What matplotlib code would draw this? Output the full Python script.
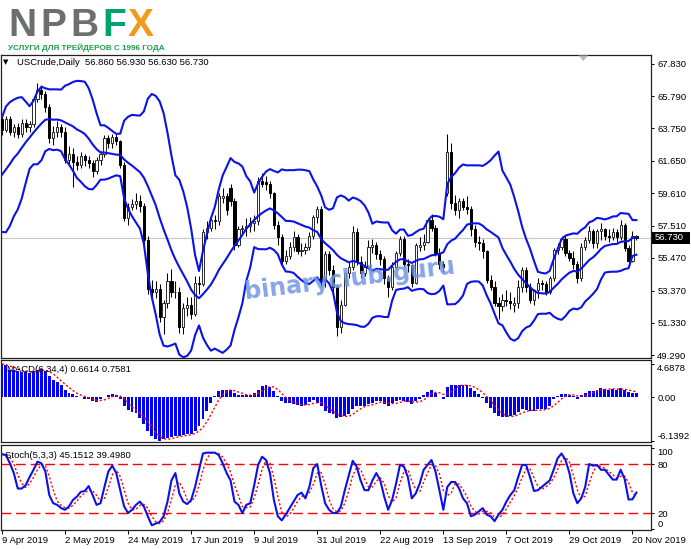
import numpy as np
import pandas as pd
import matplotlib
matplotlib.use("Agg")
import matplotlib.pyplot as plt
from matplotlib.patches import Rectangle, Polygon
from matplotlib import font_manager as fm

plt.rcParams['font.family'] = ['Liberation Sans', 'DejaVu Sans']

# ---------------- data ----------------
# closes before the visible window (needed for the band warm-up, estimated from the band start)
prior_closes = [59.6, 58.7, 58.4, 59.5, 59.0, 58.9, 59.7, 61.1, 62.1, 62.0, 61.7, 62.6, 64.0]

opens = [64.3, 63.6, 64.3, 63.5, 63.8, 63.4, 64.1, 63.8, 64.0, 65.6, 66.2, 65.9,
         65.1, 63.1, 63.5, 63.8, 63.5, 61.7, 62.1, 61.6, 61.4, 62.0, 61.7, 61.5,
         61.0, 61.7, 62.1, 63.1, 62.8, 63.2, 62.9, 61.4, 58.0, 58.7, 58.9, 59.1,
         58.8, 56.6, 53.5, 53.3, 53.5, 51.7, 52.6, 54.0, 53.3, 53.3, 51.1, 52.3,
         52.5, 51.9, 53.9, 53.8, 57.1, 57.4, 57.9, 57.8, 59.3, 59.4, 59.9, 59.1,
         56.3, 57.3, 57.4, 57.5, 57.7, 57.8, 60.4, 60.3, 60.2, 59.6, 57.6, 56.8,
         55.3, 55.6, 56.2, 56.8, 55.9, 56.0, 56.2, 56.9, 58.1, 58.6, 54.0, 55.7,
         54.7, 53.6, 51.1, 52.5, 54.5, 54.9, 57.1, 55.2, 54.5, 54.9, 56.2, 56.3,
         55.7, 55.4, 54.2, 53.6, 54.9, 55.8, 56.7, 55.1, 55.0, 53.9, 56.2, 56.3,
         56.5, 57.9, 57.4, 55.8, 55.1, 59.6, 62.2, 59.0, 58.5, 59.1, 58.7, 58.6,
         57.3, 56.5, 56.4, 55.9, 54.1, 53.6, 52.6, 52.4, 52.8, 52.7, 52.5, 52.6,
         53.6, 54.7, 53.6, 52.8, 53.4, 53.9, 53.8, 53.3, 54.2, 56.0, 56.2, 56.7,
         55.8, 55.5, 55.1, 54.2, 56.2, 56.6, 57.2, 56.4, 57.2, 57.3, 56.9, 56.8,
         57.1, 56.8, 57.6, 56.1, 55.3, 56.86]
highs = [64.5, 64.5, 64.5, 64.0, 64.1, 64.3, 64.3, 64.2, 65.8, 66.6, 66.5, 66.1,
         65.3, 63.9, 64.2, 64.0, 63.8, 62.6, 62.5, 62.0, 62.2, 62.1, 62.0, 61.7,
         61.9, 62.3, 63.3, 63.3, 63.4, 63.4, 63.0, 61.6, 59.0, 59.2, 59.6, 59.5,
         59.0, 56.9, 54.1, 54.0, 53.8, 52.8, 54.5, 54.8, 54.0, 53.6, 52.6, 53.0,
         53.0, 54.3, 54.3, 57.3, 57.8, 58.2, 58.2, 59.6, 59.9, 59.6, 60.2, 59.3,
         57.5, 57.6, 58.0, 58.1, 58.2, 60.6, 60.9, 60.7, 60.4, 59.7, 57.8, 57.0,
         56.0, 56.5, 57.2, 57.0, 56.4, 56.4, 57.1, 58.2, 58.8, 58.8, 55.9, 55.9,
         55.0, 53.8, 52.8, 54.6, 55.2, 57.5, 57.4, 55.6, 55.3, 56.6, 56.7, 56.5,
         56.0, 55.6, 54.4, 55.2, 55.9, 56.9, 56.9, 55.4, 55.1, 56.4, 56.8, 57.0,
         58.0, 58.3, 57.6, 56.1, 55.3, 63.4, 62.8, 59.5, 59.3, 59.3, 59.4, 58.8,
         57.6, 56.9, 56.7, 56.0, 54.4, 54.0, 53.0, 53.2, 53.4, 53.3, 53.0, 54.1,
         54.9, 54.9, 53.9, 53.5, 54.2, 54.1, 54.0, 54.3, 56.1, 56.4, 56.9, 56.9,
         56.0, 55.9, 55.3, 56.4, 56.8, 57.5, 57.3, 57.3, 57.7, 57.4, 57.3, 57.4,
         57.3, 57.9, 57.7, 56.3, 57.2, 56.93]
lows = [63.3, 63.5, 63.3, 63.2, 63.1, 63.2, 63.5, 63.5, 63.8, 65.4, 65.6, 64.8,
        62.8, 62.7, 63.2, 63.2, 61.5, 61.3, 60.0, 61.1, 61.2, 61.3, 61.2, 60.6,
        60.8, 61.4, 61.9, 62.5, 62.5, 62.7, 61.2, 57.8, 57.6, 58.5, 58.6, 58.4,
        56.3, 53.2, 52.8, 52.9, 51.4, 50.6, 52.3, 53.0, 52.9, 50.7, 50.6, 51.8,
        51.6, 51.8, 53.2, 53.7, 56.7, 57.2, 57.3, 57.6, 59.0, 58.2, 58.8, 56.0,
        56.2, 57.0, 56.9, 57.1, 57.2, 57.6, 60.0, 59.8, 59.3, 57.3, 56.3, 55.0,
        55.1, 55.4, 55.9, 55.7, 55.6, 55.7, 56.0, 56.7, 57.7, 53.6, 53.6, 54.4,
        53.2, 50.5, 50.7, 52.4, 54.2, 54.7, 55.0, 54.2, 54.3, 54.8, 55.8, 55.4,
        55.0, 53.8, 53.0, 53.4, 54.8, 55.6, 54.9, 54.6, 53.6, 53.8, 55.9, 56.0,
        56.4, 57.2, 55.6, 54.8, 54.6, 59.4, 58.6, 58.2, 58.0, 58.5, 58.3, 56.9,
        56.2, 56.0, 55.5, 53.9, 53.4, 52.4, 51.6, 52.1, 52.4, 52.2, 52.0, 52.3,
        53.3, 53.3, 52.6, 52.5, 52.9, 53.4, 53.1, 53.2, 54.0, 55.7, 56.0, 55.6,
        55.3, 54.8, 53.9, 54.0, 56.0, 56.4, 56.1, 56.1, 56.6, 56.6, 56.5, 56.6,
        56.5, 56.6, 55.9, 54.9, 55.2, 56.63]
closes = [63.6, 64.3, 63.5, 63.8, 63.4, 64.1, 63.8, 64.0, 65.6, 66.2, 65.9, 65.1,
          63.1, 63.5, 63.8, 63.5, 61.7, 62.1, 61.6, 61.4, 62.0, 61.7, 61.5, 61.0,
          61.7, 62.1, 63.1, 62.8, 63.2, 62.9, 61.4, 58.0, 58.7, 58.9, 59.1, 58.8,
          56.6, 53.5, 53.3, 53.5, 51.7, 52.6, 54.0, 53.3, 53.3, 51.1, 52.3, 52.5,
          51.9, 53.9, 53.8, 57.1, 57.4, 57.9, 57.8, 59.4, 59.4, 58.5, 59.1, 56.3,
          57.3, 57.4, 57.5, 57.7, 57.8, 60.4, 60.2, 60.2, 59.6, 57.6, 56.8, 55.3,
          55.6, 56.2, 56.8, 55.9, 56.0, 56.2, 56.9, 58.1, 58.6, 54.0, 55.7, 54.7,
          53.6, 51.1, 52.5, 54.5, 54.9, 57.1, 55.2, 54.5, 54.9, 56.2, 56.3, 55.7,
          55.4, 54.2, 53.6, 54.9, 55.8, 56.7, 55.1, 55.0, 53.9, 56.3, 56.3, 56.5,
          57.9, 57.4, 55.8, 55.1, 54.9, 62.2, 59.0, 58.5, 59.1, 58.7, 58.6, 57.3,
          56.5, 56.4, 55.9, 54.1, 53.6, 52.6, 52.4, 52.8, 52.7, 52.6, 52.6, 53.6,
          54.7, 53.6, 52.8, 53.4, 53.9, 53.8, 53.3, 54.2, 56.0, 56.2, 56.7, 55.8,
          55.5, 55.1, 54.2, 56.2, 56.6, 57.2, 56.4, 57.2, 57.3, 56.9, 56.8, 57.1,
          56.8, 57.6, 56.1, 55.3, 56.9, 56.73]

macd_main = [4.69, 4.55, 3.9, 3.85, 3.7, 3.6, 3.5, 3.4, 3.7, 3.9, 4.0, 3.7,
             3.0, 2.5, 2.1, 1.7, 1.1, 0.6, 0.4, 0.2, 0.05, -0.2, -0.3, -0.5,
             -0.65, -0.3, 0.05, 0.3, 0.4, 0.3, -0.3, -1.2, -1.8, -2.1, -2.2, -2.9,
             -3.8, -4.7, -5.4, -5.8, -6.1392, -5.9, -5.7, -5.6, -5.4, -5.4, -5.35, -5.2,
             -5.1, -4.7, -4.0, -3.1, -1.9, -0.75, 0.2, 0.9, 1.1, 1.0, 1.1, 0.55,
             0.3, 0.3, 0.3, 0.3, 0.55, 1.1, 1.6, 1.8, 1.5, 0.9, 0.2, -0.5,
             -0.75, -0.75, -0.9, -1.1, -1.2, -1.1, -0.65, -0.4, -0.85, -1.2, -1.9, -2.25,
             -2.4, -2.9, -2.8, -2.6, -2.4, -1.7, -1.2, -1.2, -1.2, -1.0, -0.75, -0.5,
             -0.5, -1.0, -1.2, -0.75, -0.5, -0.4, -0.5, -0.65, -1.0, -0.5, -0.3, 0.3,
             0.75, 1.1, 0.65, 0.1, -0.2, 1.5, 1.7, 1.7, 1.7, 1.7, 1.7, 1.35,
             0.9, 0.4, -0.05, -0.75, -1.45, -2.25, -2.6, -2.75, -2.75, -2.6, -2.5, -2.0,
             -1.7, -1.8, -1.9, -1.9, -1.7, -1.6, -1.7, -1.2, -0.3, 0.2, 0.4, 0.5,
             0.3, 0.2, -0.2, 0.3, 0.65, 0.9, 0.9, 1.1, 1.25, 1.2, 1.1, 1.2,
             1.1, 1.25, 1.0, 0.72, 0.65, 0.6614]

stoch_main = [92, 91, 81, 69, 50, 50, 54, 64, 73, 83, 81, 71,
              42, 32, 30, 26, 24, 28, 36, 40, 46, 47, 53, 42,
              30, 32, 52, 71, 78, 69, 48, 28, 20, 24, 30, 34,
              28, 16, 5, 7, 9, 16, 34, 60, 69, 44, 34, 31,
              36, 52, 73, 93, 94, 94, 94, 91, 81, 69, 60, 34,
              30, 20, 30, 32, 54, 79, 89, 85, 69, 36, 16, 11,
              18, 26, 34, 42, 45, 38, 52, 75, 80, 54, 32, 24,
              20, 20, 28, 48, 66, 84, 77, 60, 48, 48, 60, 69,
              60, 40, 24, 36, 56, 79, 77, 64, 38, 44, 56, 73,
              79, 85, 71, 48, 24, 52, 58, 58, 50, 38, 32, 16,
              18, 22, 26, 18, 16, 10, 18, 24, 34, 42, 48, 64,
              79, 79, 64, 47, 48, 52, 56, 60, 73, 87, 93, 85,
              69, 44, 32, 38, 52, 80, 78, 79, 73, 73, 67, 61,
              61, 73, 62, 36.5, 36.8, 45.1512]

date_labels = ['9 Apr 2019', '2 May 2019', '24 May 2019', '17 Jun 2019', '9 Jul 2019',
               '31 Jul 2019', '22 Aug 2019', '13 Sep 2019', '7 Oct 2019', '29 Oct 2019',
               '20 Nov 2019']
label_every = 16
price_ticks = [67.830, 65.790, 63.750, 61.650, 59.610, 57.510, 55.470, 53.370, 51.330, 49.290]
last_price = 56.730
macd_ticks = [4.6878, 0.0, -6.1392]
stoch_ticks = [100, 80, 20, 0]
stoch_levels = [80, 20]
band_period = 14
band_dev = 2.0

# ---------------- derived indicators ----------------
o = np.array(opens); h = np.array(highs); l = np.array(lows); c = np.array(closes)
n = len(c)
x = np.arange(n)
allc = pd.Series(prior_closes + closes)
mid = allc.rolling(band_period).mean().values[-n:]
sd = allc.rolling(band_period).std(ddof=0).values[-n:]
upper = mid + band_dev * sd
lower = mid - band_dev * sd
macd_signal = pd.Series(macd_main).rolling(4, min_periods=1).mean().values
stoch_signal = pd.Series(stoch_main).rolling(3, min_periods=1).mean().values

# ---------------- figure ----------------
W, H = 691, 549
fig = plt.figure(figsize=(W / 100, H / 100), dpi=100)


def rect(x0, y0, x1, y1):
    return [x0 / W, 1 - y1 / H, (x1 - x0) / W, (y1 - y0) / H]


def fx(px):
    return px / W


def fy(py):
    return 1 - py / H


BLUE = '#0a12e8'
RED = '#ff0000'
FS = 6.8

ax = fig.add_axes(rect(0.5, 55, 651, 358))
axm = fig.add_axes(rect(0.5, 360, 651, 442))
axs = fig.add_axes(rect(0.5, 444.5, 651, 529.5))

xlim = (-0.38, 164.7)
for a in (ax, axm, axs):
    a.set_xlim(*xlim)
    a.set_facecolor('white')
    for s in a.spines.values():
        s.set_color('#202020')
        s.set_linewidth(0.9)
    a.yaxis.tick_right()
    a.tick_params(axis='y', direction='out', length=2.5, width=0.7, pad=2,
                  labelsize=FS, colors='black')
    a.tick_params(axis='x', bottom=False, labelbottom=False)

# ---- main price panel ----
ax.set_ylim(49.099, 68.403)
ax.axhline(last_price, color='#c8c8c8', lw=0.8, zorder=1)
ax.vlines(x, l, h, color='black', lw=0.75, zorder=2)
bull = c >= o
blo = np.minimum(o, c)
bh = np.maximum(np.abs(c - o), 0.03)
ax.bar(x[bull], bh[bull], bottom=blo[bull], width=0.55, facecolor='white',
       edgecolor='#2a2a2a', linewidth=0.7, zorder=3)
ax.bar(x[~bull], bh[~bull], bottom=blo[~bull], width=0.55, facecolor='black',
       edgecolor='black', linewidth=0.7, zorder=3)
ax.plot(x, upper, color=BLUE, lw=1.5, zorder=4)
ax.plot(x, mid, color=BLUE, lw=1.5, zorder=4)
ax.plot(x, lower, color=BLUE, lw=1.5, zorder=4)
ax.set_yticks(price_ticks)
ax.set_yticklabels([f'{v:.3f}' for v in price_ticks])

# ---- MACD panel ----
axm.set_ylim(-6.28, 5.25)
axm.bar(x, macd_main, width=0.74, color='#0000ff', zorder=2)
axm.plot(x, macd_signal, color=RED, lw=1.0, linestyle=(0, (1.5, 1.5)), zorder=3)
axm.set_yticks(macd_ticks)
axm.set_yticklabels(['4.6878', '0.00', '-6.1392'])
tl = axm.get_yticklabels()
tl[0].set_va('top')
tl[2].set_va('bottom')

# ---- Stochastic panel ----
axs.set_ylim(-0.2, 104)
for lev in stoch_levels:
    axs.axhline(lev, color=RED, lw=1.0, linestyle=(0, (7, 3.5)), zorder=1)
axs.plot(x, stoch_main, color=BLUE, lw=1.5, zorder=3)
axs.plot(x, stoch_signal, color=RED, lw=1.0, linestyle=(0, (1.5, 1.5)), zorder=2)
axs.set_yticks(stoch_ticks)
axs.set_yticklabels([str(v) for v in stoch_ticks])
tl = axs.get_yticklabels()
tl[0].set_va('top')
tl[3].set_va('bottom')
tick_pos = np.arange(len(date_labels)) * label_every
axs.set_xticks(tick_pos)
axs.set_xticklabels(date_labels, ha='left', fontsize=FS)
axs.tick_params(axis='x', bottom=True, labelbottom=True, direction='out', length=3,
                width=0.7, pad=2, colors='black')

# ---- labels inside panels ----
fig.text(fx(3), fy(62.5), '\u25BC', fontsize=5, va='center', ha='left',
         family=['DejaVu Sans'], color='black')
fig.text(fx(17), fy(62.5), 'USCrude,Daily  56.860 56.930 56.630 56.730', fontsize=FS,
         va='center', ha='left', color='black')
fig.text(fx(7), fy(370), 'MACD(6,34,4) 0.6614 0.7581', fontsize=FS, va='center',
         ha='left', color='black')
fig.text(fx(5), fy(455), 'Stoch(5,3,3) 45.1512 39.4980', fontsize=FS, va='center',
         ha='left', color='black')

# current price box
fig.patches.append(Rectangle((fx(651.5), fy(244)), 38.5 / W, 12 / H, transform=fig.transFigure,
                             facecolor='black', edgecolor='none', zorder=5))
fig.text(fx(655), fy(238), '56.730', color='white', fontsize=FS, va='center', ha='left',
         zorder=6)

# chart shift marker
fig.patches.append(Polygon([(fx(578.5), fy(55.5)), (fx(588), fy(55.5)), (fx(583.3), fy(61))],
                           closed=True, transform=fig.transFigure, facecolor='#b8b8b8',
                           edgecolor='none', zorder=5))

# watermark
fig.text(fx(350), fy(279), 'binaryclub.guru', rotation=7, ha='center', va='center',
         fontsize=17, fontweight='bold', color='#7196e3', alpha=0.85,
         family=['DejaVu Sans'], zorder=10)

# logo
logo_letters = [('N', 8, '#6d6e71'), ('P', 40, '#6d6e71'), ('B', 70, '#6d6e71'),
                ('F', 102, '#00a36f'), ('X', 128, '#f39a1e')]
for ch, px, col in logo_letters:
    fig.text(fx(px), fy(35.5), ch, fontsize=28, fontweight='bold', color=col,
             ha='left', va='baseline', family=['Liberation Sans'])

try:
    fm.findfont(fm.FontProperties(family='Liberation Sans Narrow', weight='bold'),
                fallback_to_default=False)
    slogan_family, slogan_size = ['Liberation Sans Narrow'], 7.0
except Exception:
    slogan_family, slogan_size = ['Liberation Sans'], 5.9
fig.text(fx(8), fy(50.5), 'УСЛУГИ ДЛЯ ТРЕЙДЕРОВ С 1996 ГОДА', fontsize=slogan_size,
         fontweight='bold', color='#1e9e4a', ha='left', va='baseline',
         family=slogan_family)

fig.savefig('out.png', dpi=100, facecolor='white')
